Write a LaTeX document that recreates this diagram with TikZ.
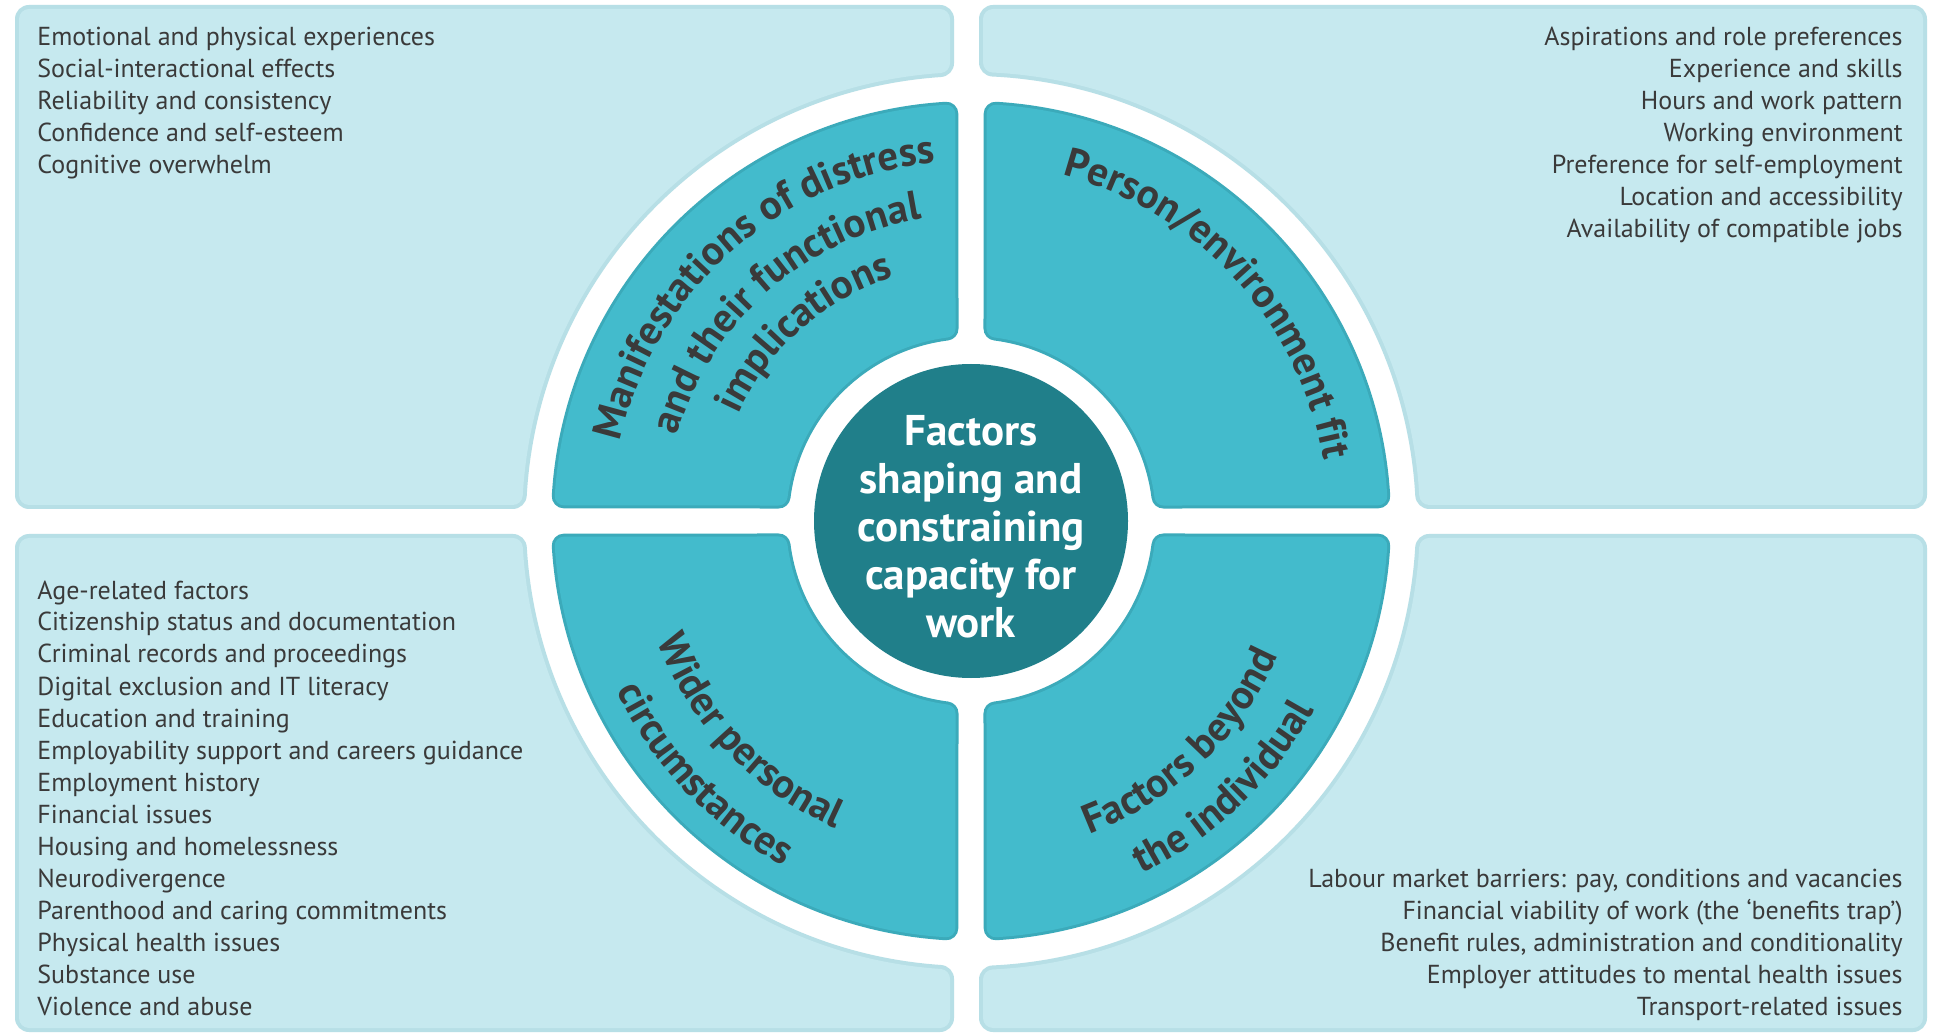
\documentclass[tikz,border=0pt]{standalone}
\usepackage{fontspec}
\setmainfont{PT Sans}
\usepackage{xcolor}
\definecolor{pnl_light}{HTML}{C6E9EF}
\definecolor{pnl_lightrim}{HTML}{B7DFE6}
\definecolor{pnl_teal}{HTML}{43BBCC}
\definecolor{pnl_tealrim}{HTML}{3BAABA}
\definecolor{hub_teal}{HTML}{207F8A}
\definecolor{txt_dark}{HTML}{3A3A3A}
\usetikzlibrary{decorations.text}
\newcommand{\headfont}{\fontsize{20.5}{24}\selectfont\bfseries}

\begin{document}
\begin{tikzpicture}[x=0.5pt,y=0.5pt,
    lightpanel/.style={fill=pnl_light,draw=pnl_light,line width=#1,line join=round},
    lightrim/.style={fill=pnl_lightrim,draw=pnl_lightrim,line width=14pt,line join=round},
    tealpanel/.style={fill=pnl_teal,draw=pnl_teal,line width=#1,line join=round},
    tealrim/.style={fill=pnl_tealrim,draw=pnl_tealrim,line width=12pt,line join=round},
    hub/.style={circle,fill=hub_teal,minimum size=157pt,inner sep=0pt},
    hubtxt/.style={text=white,align=center,font=\fontsize{21.5}{24}\selectfont\bfseries},
    listtxt/.style={inner sep=0pt,text=txt_dark,font=\fontsize{13}{16}\selectfont},
    curvetxt/.style={decorate,decoration={text along path,text align=center,text color=txt_dark}}]
    \fill[white] (0,0) rectangle (1934,1035);
    \useasboundingbox (0,0) rectangle (1934,1035);
    %outer panels
    \foreach \sty/\w in {lightrim/14pt,lightpanel/10pt,lightpanel/7pt}{
    \filldraw[\sty=\w] (29,1016)--(940,1016)--([shift={(971,514)}]93.87:459)
        arc[start angle=93.87,end angle=176.75,radius=459]--(29,540)--cycle;
    \filldraw[\sty=\w] (1913,1016)--(993,1016)--([shift={(971,514)}]87.25:459)
        arc[start angle=87.25,end angle=3.25,radius=459]--(1913,540)--cycle;
    \filldraw[\sty=\w] (29,17)--(29,487)--([shift={(971,514)}]183.37:459)
        arc[start angle=183.37,end angle=266.13,radius=459]--(940,17)--cycle;
    \filldraw[\sty=\w] (1913,17)--(993,17)--([shift={(971,514)}]272.75:459)
        arc[start angle=272.75,end angle=356.63,radius=459]--(1913,487)--cycle;
    }
    %quadrants
    \foreach \sty/\w in {tealrim/12pt,tealpanel/9pt,tealpanel/6pt}{
    \filldraw[\sty=\w] ([shift={(971,514)}]93.47:408) arc[start angle=93.47,end angle=176.53,radius=408]
        --([shift={(971,514)}]172.75:194) arc[start angle=172.75,end angle=97.25,radius=194]--cycle;
    \filldraw[\sty=\w] ([shift={(971,514)}]3.47:408) arc[start angle=3.47,end angle=86.53,radius=408]
        --([shift={(971,514)}]82.75:194) arc[start angle=82.75,end angle=7.25,radius=194]--cycle;
    \filldraw[\sty=\w] ([shift={(971,514)}]183.47:408) arc[start angle=183.47,end angle=266.53,radius=408]
        --([shift={(971,514)}]262.75:194) arc[start angle=262.75,end angle=187.25,radius=194]--cycle;
    \filldraw[\sty=\w] ([shift={(971,514)}]273.47:408) arc[start angle=273.47,end angle=356.53,radius=408]
        --([shift={(971,514)}]352.75:194) arc[start angle=352.75,end angle=277.25,radius=194]--cycle;
    }
    %centre
    \node[hub] (hub) at (971,514) {};
    \node[hubtxt] (hublabel) at (971,508) {Factors\\shaping and\\constraining\\capacity for\\work};
    %quadrant titles
    \path[curvetxt,decoration={text={|\headfont|Manifestations of distress}}]
        ([shift={(971,514)}]211.5:360) arc[start angle=211.5,end angle=51.5,radius=360];
    \path[curvetxt,decoration={text={|\headfont|and their functional}}]
        ([shift={(971,514)}]211.5:306) arc[start angle=211.5,end angle=51.5,radius=306];
    \path[curvetxt,decoration={text={|\headfont|implications}}]
        ([shift={(971,514)}]211.5:256) arc[start angle=211.5,end angle=51.5,radius=256];
    \path[curvetxt,decoration={text={|\headfont|Person/environment fit}}]
        ([shift={(971,514)}]122.5:358) arc[start angle=122.5,end angle=-37.5,radius=358];
    \path[curvetxt,decoration={text={|\headfont|Wider personal}}]
        ([shift={(971,514)}]143.5:336) arc[start angle=143.5,end angle=303.5,radius=336];
    \path[curvetxt,decoration={text={|\headfont|circumstances}}]
        ([shift={(971,514)}]143.5:393) arc[start angle=143.5,end angle=303.5,radius=393];
    \path[curvetxt,decoration={text={|\headfont|Factors beyond}}]
        ([shift={(971,514)}]233.5:335) arc[start angle=233.5,end angle=393.5,radius=335];
    \path[curvetxt,decoration={text={|\headfont|the individual}}]
        ([shift={(971,514)}]233.5:392) arc[start angle=233.5,end angle=393.5,radius=392];
    %lists
    \foreach \item [count=\i] in {Emotional and physical experiences,Social-interactional effects,
        Reliability and consistency,Confidence and self-esteem,Cognitive overwhelm}
        \node[listtxt,anchor=base west] (distress\i) at (37,{989-32*(\i-1)}) {\item};
    \foreach \item [count=\i] in {Aspirations and role preferences,Experience and skills,
        Hours and work pattern,Working environment,Preference for self-employment,
        Location and accessibility,Availability of compatible jobs}
        \node[listtxt,anchor=base east] (fit\i) at (1903,{989-32*(\i-1)}) {\item};
    \foreach \item [count=\i] in {Age-related factors,Citizenship status and documentation,
        Criminal records and proceedings,Digital exclusion and IT literacy,Education and training,
        Employability support and careers guidance,Employment history,Financial issues,
        Housing and homelessness,Neurodivergence,Parenthood and caring commitments,
        Physical health issues,Substance use,Violence and abuse}
        \node[listtxt,anchor=base west] (wider\i) at (37,{436-32*(\i-1)}) {\item};
    \foreach \item [count=\i] in {{Labour market barriers: pay, conditions and vacancies},
        Financial viability of work (the ‘benefits trap’),
        {Benefit rules, administration and conditionality},
        Employer attitudes to mental health issues,Transport-related issues}
        \node[listtxt,anchor=base east] (beyond\i) at (1903,{148-32*(\i-1)}) {\item};
\end{tikzpicture}
\end{document}
